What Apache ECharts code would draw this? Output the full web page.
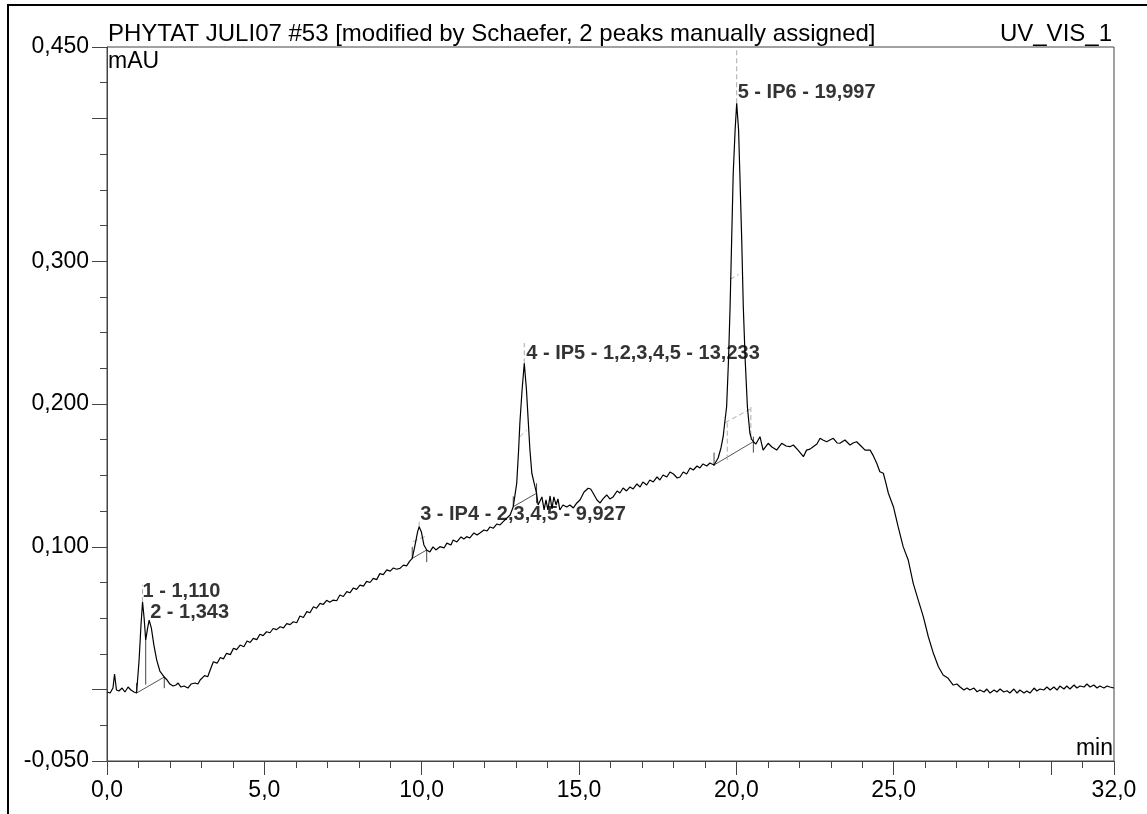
<!DOCTYPE html>
<html>
<head>
<meta charset="utf-8">
<script src="https://cdn.jsdelivr.net/npm/echarts@6/dist/echarts.min.js"></script>
<style>
  html, body { margin: 0; padding: 0; background: #fff; }
  #chart { width: 1147px; height: 814px; }
</style>
</head>
<body>
<div id="chart"></div>
<script>
// texts
const title = 'PHYTAT JULI07 #53 [modified by Schaefer, 2 peaks manually assigned]'
const channel = 'UV_VIS_1'
const yUnit = 'mAU'
const xUnit = 'min'

// ticks and labels
const xTickLong = [0, 5, 10, 15, 20, 25, 30, 32]
const xLabels = [0, 5, 10, 15, 20, 25, 32]
const yTickLong = [-0.05, 0, 0.1, 0.2, 0.3, 0.4, 0.45]
const yLabels = [-0.05, 0.1, 0.2, 0.3, 0.45]

// chromatogram [min, signal]
const trace = [
  [0, -0.0017], [0.10, -0.0024], [0.19, 0.0011], [0.24, 0.0109], [0.30, -0.0003], [0.38, -0.001],
  [0.48, 0.0011], [0.57, -0.0017], [0.67, 0.0018], [0.76, -0.0003], [0.86, -0.0017], [0.94, -0.0024],
  [1.02, 0.0207], [1.08, 0.0452], [1.13, 0.0613], [1.18, 0.050], [1.23, 0.0347], [1.29, 0.0431],
  [1.34, 0.0487], [1.41, 0.0431], [1.49, 0.0312], [1.58, 0.0207], [1.68, 0.013], [1.82, 0.0088],
  [1.91, 0.0067], [2.00, 0.0039], [2.10, 0.0025], [2.19, 0.0032], [2.26, 0.0046], [2.35, 0.0018],
  [2.45, 0.0025], [2.57, 0.0011], [2.67, 0.0039], [2.80, 0.0046], [2.89, 0.0039], [2.96, 0.0067],
  [3.1, 0.0098], [3.2, 0.0090], [3.3, 0.0150], [3.38, 0.0195], [3.5, 0.0185], [3.6, 0.0225],
  [3.7, 0.0215], [3.8, 0.0254], [3.92, 0.0245], [4.02, 0.0290], [4.12, 0.0280], [4.23, 0.0312],
  [4.35, 0.0300], [4.45, 0.0340], [4.55, 0.0330], [4.65, 0.0359], [4.76, 0.0350], [4.86, 0.0388],
  [4.96, 0.0378], [5.07, 0.0405], [5.18, 0.0398], [5.28, 0.0428], [5.39, 0.0420], [5.50, 0.0440],
  [5.61, 0.0432], [5.71, 0.0462], [5.82, 0.0455], [5.92, 0.0475], [6.03, 0.0468], [6.13, 0.0515],
  [6.24, 0.0505], [6.35, 0.0546], [6.45, 0.0538], [6.56, 0.0580], [6.66, 0.0570], [6.77, 0.0604],
  [6.87, 0.0596], [6.98, 0.0625], [7.08, 0.0612], [7.19, 0.0627], [7.30, 0.0622], [7.40, 0.0662],
  [7.51, 0.0652], [7.62, 0.0686], [7.72, 0.0678], [7.83, 0.0712], [7.93, 0.0702], [8.04, 0.0732],
  [8.15, 0.0725], [8.25, 0.0758], [8.36, 0.0750], [8.46, 0.0779], [8.57, 0.0770], [8.67, 0.0812],
  [8.78, 0.0805], [8.89, 0.0838], [9.00, 0.0830], [9.10, 0.0852], [9.20, 0.0843], [9.31, 0.0849],
  [9.42, 0.0872], [9.52, 0.0866], [9.62, 0.0900], [9.70, 0.0919], [9.79, 0.1013], [9.87, 0.1104],
  [9.92, 0.1141], [9.99, 0.1104], [10.07, 0.1013], [10.16, 0.0978], [10.26, 0.0964], [10.36, 0.0999],
  [10.45, 0.0978], [10.58, 0.1001], [10.71, 0.0992], [10.80, 0.1026], [10.93, 0.1013], [11.00, 0.1048],
  [11.12, 0.1034], [11.25, 0.1069], [11.34, 0.1055], [11.43, 0.1071], [11.53, 0.1062], [11.66, 0.1097],
  [11.76, 0.1083], [11.85, 0.1097], [11.98, 0.1118], [12.08, 0.1111], [12.17, 0.1139], [12.28, 0.1130],
  [12.39, 0.1160], [12.49, 0.1153], [12.59, 0.1176], [12.71, 0.1202], [12.81, 0.1223], [12.91, 0.1281],
  [13.02, 0.1445], [13.08, 0.1678], [13.12, 0.1867], [13.19, 0.2098], [13.26, 0.2285], [13.33, 0.2098],
  [13.39, 0.1865], [13.44, 0.1678], [13.50, 0.1515], [13.60, 0.1421], [13.65, 0.1375], [13.70, 0.1293],
  [13.76, 0.1279], [13.82, 0.1349], [13.89, 0.1258], [13.95, 0.1328], [14.01, 0.1258], [14.08, 0.1356],
  [14.14, 0.1265], [14.20, 0.1349], [14.27, 0.1293], [14.33, 0.1335], [14.39, 0.1258], [14.49, 0.1293],
  [14.61, 0.1279], [14.71, 0.1293], [14.82, 0.1272], [14.93, 0.1307], [15.03, 0.1328], [15.16, 0.1384],
  [15.29, 0.141], [15.37, 0.1405], [15.45, 0.1375], [15.57, 0.1328], [15.67, 0.1307], [15.76, 0.1335],
  [15.88, 0.1363], [15.98, 0.1335], [16.09, 0.1351], [16.21, 0.1391], [16.30, 0.1377], [16.40, 0.1412],
  [16.51, 0.1391], [16.62, 0.1419], [16.72, 0.1405], [16.84, 0.144], [16.94, 0.1419], [17.03, 0.1454],
  [17.15, 0.1433], [17.25, 0.1468], [17.36, 0.1454], [17.48, 0.1489], [17.57, 0.1468], [17.67, 0.1503],
  [17.79, 0.1489], [17.89, 0.1524], [18.00, 0.151], [18.12, 0.1482], [18.21, 0.1489], [18.31, 0.1524],
  [18.42, 0.151], [18.53, 0.1552], [18.63, 0.1538], [18.75, 0.1566], [18.84, 0.1552], [18.94, 0.158],
  [19.06, 0.1566], [19.16, 0.1587], [19.29, 0.1573], [19.42, 0.1622], [19.51, 0.1692], [19.58, 0.1771],
  [19.64, 0.1888], [19.69, 0.1981], [19.75, 0.2308], [19.80, 0.2681], [19.85, 0.3148], [19.90, 0.3616],
  [19.96, 0.3919], [20.01, 0.4106], [20.07, 0.3919], [20.11, 0.3616], [20.17, 0.3148], [20.22, 0.2681],
  [20.28, 0.2308], [20.35, 0.1981], [20.39, 0.1888], [20.43, 0.1795], [20.48, 0.1755], [20.54, 0.1736],
  [20.62, 0.172], [20.75, 0.1771], [20.85, 0.1677], [21.01, 0.1725], [21.13, 0.1699], [21.28, 0.1677],
  [21.44, 0.1725], [21.58, 0.1706], [21.70, 0.1701], [21.81, 0.1713], [21.96, 0.1677], [22.13, 0.1631],
  [22.23, 0.1677], [22.34, 0.1684], [22.44, 0.1701], [22.56, 0.172], [22.66, 0.176], [22.75, 0.1748],
  [22.87, 0.1736], [22.97, 0.1748], [23.08, 0.176], [23.20, 0.1727], [23.29, 0.1725], [23.45, 0.1748],
  [23.61, 0.1713], [23.71, 0.1727], [23.82, 0.1736], [23.96, 0.1706], [24.09, 0.1677], [24.25, 0.1677],
  [24.34, 0.1642], [24.46, 0.1585], [24.56, 0.1526], [24.67, 0.1515], [24.75, 0.1447], [24.83, 0.1375],
  [24.99, 0.1281], [25.14, 0.1141], [25.30, 0.1001], [25.46, 0.0908], [25.62, 0.0744], [25.78, 0.0627],
  [25.94, 0.0511], [26.10, 0.037], [26.26, 0.0254], [26.42, 0.016], [26.57, 0.0102], [26.73, 0.0079],
  [26.89, 0.0032], [27.01, 0.0039], [27.10, 0.002], [27.23, -0.0003], [27.33, 0.0011], [27.42, -0.0003],
  [27.55, 0.0011], [27.65, -0.0015], [27.74, -0.0003], [27.87, -0.0017], [27.96, 0.0004], [28.06, -0.0024],
  [28.19, -0.0003], [28.28, -0.0017], [28.38, 0.0004], [28.50, -0.0017], [28.60, -0.0008], [28.69, -0.0024],
  [28.82, 0.0004], [28.92, -0.0024], [29.01, -0.0003], [29.14, -0.0024], [29.23, -0.001], [29.33, -0.0024],
  [29.46, 0.0011], [29.55, -0.001], [29.65, 0.0004], [29.77, -0.0003], [29.87, 0.0018], [29.97, -0.0003],
  [30.09, 0.0018], [30.19, -0.0003], [30.28, 0.0025], [30.41, 0.0004], [30.50, 0.0025], [30.60, 0.0004],
  [30.73, 0.0032], [30.82, 0.0011], [30.92, 0.0025], [31.05, 0.0018], [31.14, 0.0039], [31.24, 0.0018],
  [31.36, 0.0032], [31.46, 0.0011], [31.55, 0.0025], [31.68, 0.0011], [31.78, 0.0025], [31.87, 0.0018],
  [32.00, 0.0011]
]

// peaks
const peakNames = ['1 - 1,110', '2 - 1,343', '3 - IP4 - 2,3,4,5 - 9,927', '4 - IP5 - 1,2,3,4,5 - 13,233', '5 - IP6 - 19,997']
const peakApex = [[1.13, 0.0613], [1.34, 0.0487], [9.92, 0.1141], [13.26, 0.2285], [20.01, 0.4106]]
const labelOffsets = [[0, -11], [1, -8], [1, -12], [2, -10], [1, -11]]

// integration marks
const baselines = [
  [[0.94, -0.0024], [1.82, 0.0088]],
  [[9.70, 0.0919], [10.16, 0.0978]],
  [[12.91, 0.1281], [13.65, 0.1375]],
  [[19.29, 0.1573], [20.54, 0.1736]]
]
const delimiters = [
  [[0.94, -0.0024], [0.94, 0.0046]],
  [[1.82, 0.0088], [1.82, 0.001]],
  [[1.23, 0.0347], [1.23, 0.0035]],
  [[9.70, 0.0919], [9.70, 0.1]],
  [[10.16, 0.0978], [10.16, 0.0893]],
  [[12.91, 0.1281], [12.91, 0.1353]],
  [[13.65, 0.1445], [13.65, 0.1305]],
  [[19.29, 0.1566], [19.29, 0.166]],
  [[20.54, 0.1771], [20.54, 0.166]]
]
const dashedMarks = [
  [[1.13, 0.0613], [1.13, 0.0732]],
  [[9.92, 0.1141], [9.92, 0.1188]],
  [[13.26, 0.2285], [13.26, 0.2427]],
  [[20.01, 0.4106], [20.01, 0.45]],
  [[9.72, 0.1036], [10.10, 0.1071]],
  [[13.12, 0.1771], [13.34, 0.1818]],
  [[19.80, 0.2873], [20.07, 0.2908]],
  [[19.64, 0.1869], [20.43, 0.1963]],
  [[19.71, 0.1869], [19.71, 0.1608]],
  [[20.46, 0.1979], [20.46, 0.1748]]
]

const font = "'Liberation Sans', Arial, Helvetica, sans-serif"
const axisColor = '#444'
const comma = (v, d) => v.toFixed(d).replace('.', ',')

const chart = echarts.init(document.getElementById('chart'))

const segSeries = (segs, color, type) => segs.map(s => ({
  type: 'line',
  data: s,
  symbol: 'none',
  silent: true,
  z: 2,
  lineStyle: { color: color, width: 1, type: type }
}))

chart.setOption({
  animation: false,
  backgroundColor: '#fff',
  grid: {
    left: 107, right: 33, top: 47, bottom: 53,
    show: true, borderColor: axisColor, borderWidth: 1
  },
  xAxis: [{
    type: 'value', min: 0, max: 32, interval: 1, position: 'bottom',
    axisLine: { show: true, onZero: false, lineStyle: { color: axisColor } },
    axisTick: { show: true, length: 7, lineStyle: { color: axisColor } },
    axisLabel: { show: false },
    splitLine: { show: false }
  }, {
    type: 'value', min: 0, max: 32, position: 'bottom',
    axisLine: { show: false, onZero: false },
    axisTick: { show: true, length: 14, customValues: xTickLong, lineStyle: { color: axisColor } },
    axisLabel: {
      show: true, customValues: xLabels, margin: 18,
      fontFamily: font, fontSize: 23, color: '#000',
      formatter: v => comma(v, 1)
    },
    splitLine: { show: false }
  }],
  yAxis: [{
    type: 'value', min: -0.05, max: 0.45, interval: 0.025, position: 'left',
    axisLine: { show: true, onZero: false, lineStyle: { color: axisColor } },
    axisTick: { show: true, length: 7, lineStyle: { color: axisColor } },
    axisLabel: { show: false },
    splitLine: { show: false }
  }, {
    type: 'value', min: -0.05, max: 0.45, position: 'left',
    axisLine: { show: false, onZero: false },
    axisTick: { show: true, length: 15, customValues: yTickLong, lineStyle: { color: axisColor } },
    axisLabel: {
      show: true, customValues: yLabels, margin: 18,
      fontFamily: font, fontSize: 23, color: '#000',
      formatter: v => comma(v, 3)
    },
    splitLine: { show: false }
  }],
  graphic: [
    { type: 'rect', shape: { x: 8, y: 5, width: 1160, height: 830 }, style: { fill: null, stroke: '#000', lineWidth: 2 }, silent: true },
    { type: 'text', x: 108, y: 34, style: { text: title, font: '24px ' + font, fill: '#000', verticalAlign: 'middle' } },
    { type: 'text', x: 1112, y: 34, style: { text: channel, font: '24px ' + font, fill: '#000', align: 'right', verticalAlign: 'middle' } },
    { type: 'text', x: 108, y: 62, style: { text: yUnit, font: '23px ' + font, fill: '#000', verticalAlign: 'middle' } },
    { type: 'text', x: 1113, y: 749, style: { text: xUnit, font: '23px ' + font, fill: '#000', align: 'right', verticalAlign: 'middle' } }
  ],
  series: [
    ...segSeries(baselines, '#555', 'solid'),
    ...segSeries(delimiters, '#444', 'solid'),
    ...segSeries(dashedMarks, '#aaa', [5, 3]),
    {
      type: 'line',
      data: trace,
      symbol: 'none',
      silent: true,
      z: 3,
      lineStyle: { color: '#000', width: 1.2 }
    },
    {
      type: 'scatter',
      symbolSize: 0,
      silent: true,
      z: 4,
      data: peakApex.map((p, i) => ({
        value: p,
        name: peakNames[i],
        label: { offset: labelOffsets[i] }
      })),
      label: {
        show: true, position: 'right', distance: 0,
        formatter: p => p.name,
        fontFamily: font, fontSize: 20, fontWeight: 'bold', color: '#000'
      }
    }
  ]
})
</script>
</body>
</html>
